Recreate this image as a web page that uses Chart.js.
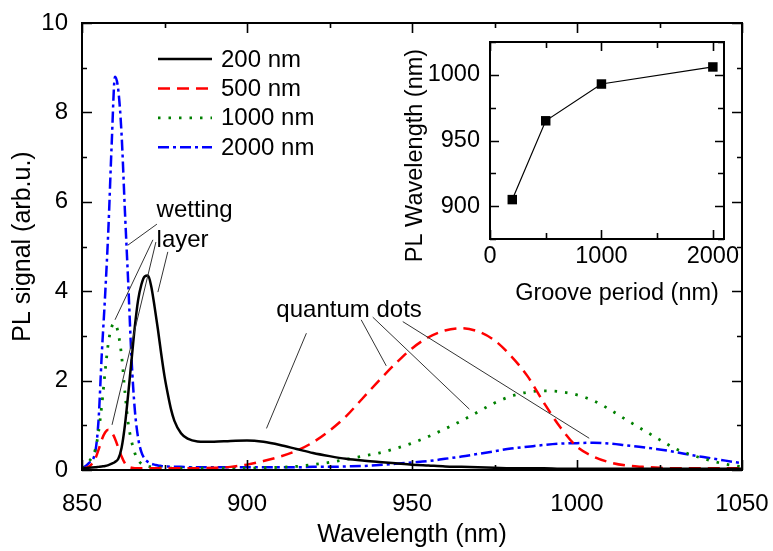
<!DOCTYPE html>
<html lang="en">
<head>
  <meta charset="UTF-8" />
  <title>PL spectra vs groove period</title>
  <script src="https://cdn.jsdelivr.net/npm/chart.js"></script>
  <style>
    html, body { margin: 0; padding: 0; background: #fff; }
    #wrap { position: relative; width: 773px; height: 551px; }
    #wrap canvas { position: absolute; left: 0; top: 0; }
    #inset { pointer-events: none; }
  </style>
</head>
<body>
<div id="wrap">
  <canvas id="spectra" width="773" height="551"></canvas>
  <canvas id="inset" width="773" height="551"></canvas>
</div>

<script>
  // wavelength grid (nm), denser around the wetting-layer peaks
  const wavelength = [850, 852, 854, 855, 856, 857, 858, 859, 860, 861, 862, 863, 864, 865, 866, 867,
    868, 869, 870, 871, 872, 873, 874, 875, 876, 877, 878, 880, 882, 885, 890, 895, 900, 905, 910,
    915, 920, 925, 930, 935, 940, 945, 950, 955, 960, 965, 970, 975, 980, 985, 990, 995, 1000, 1005,
    1010, 1015, 1020, 1025, 1030, 1035, 1040, 1045, 1050];

  const pl200 = [0.03, 0.05, 0.06, 0.07, 0.08, 0.09, 0.11, 0.14, 0.18, 0.25, 0.5, 1.0, 1.7, 2.45, 3.2, 3.8,
    4.15, 4.33, 4.35, 4.1, 3.65, 3.15, 2.6, 2.1, 1.7, 1.35, 1.1, 0.82, 0.7, 0.64, 0.63, 0.65, 0.66, 0.63, 0.56,
    0.47, 0.38, 0.31, 0.25, 0.21, 0.18, 0.15, 0.12, 0.1, 0.08, 0.07, 0.06, 0.05, 0.04, 0.04, 0.04, 0.03, 0.03, 0.03,
    0.03, 0.03, 0.03, 0.03, 0.03, 0.03, 0.03, 0.03, 0.03];

  const pl500 = [0.03, 0.07, 0.25, 0.45, 0.68, 0.84, 0.9, 0.84, 0.7, 0.5, 0.3, 0.15, 0.08, 0.05, 0.04, 0.04,
    0.04, 0.04, 0.04, 0.04, 0.04, 0.04, 0.04, 0.04, 0.04, 0.04, 0.04, 0.04, 0.04, 0.04, 0.05, 0.07, 0.12, 0.2, 0.3,
    0.43, 0.62, 0.88, 1.2, 1.6, 2.0, 2.38, 2.72, 2.97, 3.12, 3.17, 3.1, 2.9, 2.55, 2.1, 1.5, 0.95, 0.52, 0.3,
    0.17, 0.1, 0.07, 0.05, 0.04, 0.04, 0.04, 0.04, 0.04];

  const pl1000 = [0.04, 0.18, 0.45, 0.85, 1.45, 2.2, 2.85, 3.2, 3.28, 3.05, 2.55, 1.75, 1.05, 0.65, 0.38, 0.22,
    0.14, 0.1, 0.08, 0.07, 0.06, 0.05, 0.05, 0.05, 0.05, 0.04, 0.04, 0.04, 0.04, 0.04, 0.04, 0.04, 0.04, 0.05, 0.06,
    0.08, 0.12, 0.17, 0.24, 0.31, 0.38, 0.48, 0.6, 0.75, 0.92, 1.1, 1.3, 1.5, 1.65, 1.74, 1.77, 1.75, 1.68, 1.55,
    1.35, 1.12, 0.9, 0.68, 0.47, 0.33, 0.22, 0.13, 0.07];

  const pl2000 = [0.03, 0.15, 0.4, 1.1, 2.6, 3.9, 5.4, 7.3, 8.8, 8.5, 7.5, 5.8, 4.2, 2.5, 1.35, 0.72,
    0.4, 0.25, 0.18, 0.14, 0.12, 0.1, 0.09, 0.08, 0.08, 0.07, 0.07, 0.07, 0.06, 0.06, 0.06, 0.06, 0.06, 0.06, 0.06,
    0.06, 0.07, 0.07, 0.08, 0.09, 0.11, 0.14, 0.17, 0.2, 0.25, 0.3, 0.36, 0.42, 0.48, 0.52, 0.56, 0.59, 0.6, 0.61,
    0.59, 0.55, 0.51, 0.46, 0.4, 0.33, 0.27, 0.21, 0.15];

  const seriesNames = ['200 nm', '500 nm', '1000 nm', '2000 nm'];

  // inset: peak position of the quantum dot emission
  const groovePeriod = [200, 500, 1000, 2000];
  const peakWavelength = [905, 965, 993, 1006];
  const insetXTicks = [0, 1000, 2000];
  const insetYTicks = [900, 950, 1000];

  // annotation texts and leader lines, in data units
  const noteTexts = ['wetting', 'layer', 'quantum dots'];
  const notePos = [[872.6, 5.66], [872.6, 4.99], [908.9, 3.42]];
  const leaders = [
    [872.7, 5.50, 863.9, 5.03],
    [871.5, 5.15, 860.0, 3.36],
    [872.4, 5.10, 859.1, 1.01],
    [876.0, 4.88, 873.0, 3.98],
    [918.0, 3.06, 905.9, 0.93],
    [934.6, 3.36, 942.2, 2.33],
    [938.1, 3.42, 967.4, 1.36],
    [947.2, 3.32, 1003.7, 0.71]
  ];

  const fam = '"Liberation Sans", Arial, sans-serif';
  Chart.defaults.font.family = fam;
  Chart.defaults.font.size = 24;
  Chart.defaults.color = '#000';

  const pts = ys => wavelength.map((w, i) => ({ x: w, y: ys[i] }));
  const plain = v => String(v);
  // no extra room for overhanging tick labels
  const noPad = s => { s.paddingLeft = 0; s.paddingRight = 0; s.paddingTop = 0; s.paddingBottom = 0; };

  // frame + inward ticks on all four sides
  function drawFrame(chart, o) {
    const { ctx, chartArea: a } = chart;
    const sx = chart.scales.x, sy = chart.scales.y;
    ctx.save();
    ctx.strokeStyle = '#000';
    ctx.lineWidth = 2;
    ctx.strokeRect(a.left, a.top, a.right - a.left, a.bottom - a.top);
    ctx.lineWidth = 1.6;
    ctx.beginPath();
    for (let v = sx.min; v <= sx.max + 1e-9; v += o.xMinor) {
      const len = Math.abs(v / o.xMajor - Math.round(v / o.xMajor)) < 1e-6 ? o.major : o.minor;
      const px = Math.round(sx.getPixelForValue(v)) + 0.5;
      ctx.moveTo(px, a.bottom); ctx.lineTo(px, a.bottom - len);
      ctx.moveTo(px, a.top); ctx.lineTo(px, a.top + len);
    }
    for (let v = o.yStart; v <= sy.max + 1e-9; v += o.yMinor) {
      const len = Math.abs(v / o.yMajor - Math.round(v / o.yMajor)) < 1e-6 ? o.major : o.minor;
      const py = Math.round(sy.getPixelForValue(v)) + 0.5;
      ctx.moveTo(a.left, py); ctx.lineTo(a.left + len, py);
      ctx.moveTo(a.right, py); ctx.lineTo(a.right - len, py);
    }
    ctx.stroke();
    ctx.restore();
  }

  const spectraDecor = {
    id: 'spectraDecor',
    afterDatasetsDraw(chart) {
      const { ctx, chartArea: a } = chart;
      const sx = chart.scales.x, sy = chart.scales.y;
      drawFrame(chart, { xMinor: 25, xMajor: 50, yStart: 0, yMinor: 1, yMajor: 2, major: 10, minor: 5 });

      ctx.save();
      // legend
      ctx.font = '24px ' + fam;
      ctx.textBaseline = 'middle';
      ctx.textAlign = 'left';
      chart.data.datasets.forEach((ds, i) => {
        const y = a.top + 36 + i * 29.4;
        ctx.strokeStyle = ds.borderColor;
        ctx.lineWidth = ds.borderWidth;
        ctx.setLineDash(ds.borderDash || []);
        ctx.beginPath();
        ctx.moveTo(a.left + 76, y);
        ctx.lineTo(a.left + 130, y);
        ctx.stroke();
        ctx.setLineDash([]);
        ctx.fillStyle = '#000';
        ctx.fillText(ds.label, a.left + 139, y + 1);
      });

      // leader lines
      ctx.strokeStyle = '#333';
      ctx.lineWidth = 1;
      ctx.beginPath();
      leaders.forEach(l => {
        ctx.moveTo(sx.getPixelForValue(l[0]), sy.getPixelForValue(l[1]));
        ctx.lineTo(sx.getPixelForValue(l[2]), sy.getPixelForValue(l[3]));
      });
      ctx.stroke();

      // annotation texts
      ctx.fillStyle = '#000';
      ctx.textBaseline = 'alphabetic';
      noteTexts.forEach((t, i) => {
        ctx.fillText(t, sx.getPixelForValue(notePos[i][0]), sy.getPixelForValue(notePos[i][1]));
      });
      ctx.restore();
    }
  };

  new Chart(document.getElementById('spectra'), {
    type: 'line',
    data: {
      datasets: [
        { label: seriesNames[0], data: pts(pl200), borderColor: '#000000', borderWidth: 2.5 },
        { label: seriesNames[1], data: pts(pl500), borderColor: '#ff0000', borderWidth: 2.5, borderDash: [12, 7] },
        { label: seriesNames[2], data: pts(pl1000), borderColor: '#008000', borderWidth: 2.8, borderDash: [2.5, 8] },
        { label: seriesNames[3], data: pts(pl2000), borderColor: '#0000ff', borderWidth: 2.5, borderDash: [11, 4, 3, 4] }
      ]
    },
    options: {
      responsive: false,
      animation: false,
      layout: { padding: { top: 23, right: 31, left: 0, bottom: 0 } },
      elements: {
        point: { radius: 0 },
        line: { cubicInterpolationMode: 'monotone' }
      },
      plugins: { legend: { display: false }, tooltip: { enabled: false } },
      scales: {
        x: {
          type: 'linear', min: 850, max: 1050,
          grid: { display: false, drawTicks: false },
          border: { display: false },
          ticks: { stepSize: 50, padding: 20, maxRotation: 0, callback: plain },
          title: { display: true, text: 'Wavelength (nm)', font: { size: 25 }, padding: { top: 0, bottom: 1 } },
          afterFit(s) { s.height = 81; noPad(s); }
        },
        y: {
          min: 0, max: 10,
          grid: { display: false, drawTicks: false },
          border: { display: false },
          ticks: { stepSize: 2, padding: 14, callback: plain },
          title: { display: true, text: 'PL signal (arb.u.)', font: { size: 25 }, padding: { top: 8, bottom: 0 } },
          afterFit(s) { s.width = 82; noPad(s); }
        }
      }
    },
    plugins: [spectraDecor]
  });

  const insetDecor = {
    id: 'insetDecor',
    afterDatasetsDraw(chart) {
      const { ctx, chartArea: a } = chart;
      drawFrame(chart, { xMinor: 500, xMajor: 1000, yStart: 875, yMinor: 25, yMajor: 50, major: 9, minor: 6 });
      ctx.save();
      ctx.fillStyle = '#000';
      ctx.font = '23.5px ' + fam;
      ctx.textAlign = 'center';
      ctx.textBaseline = 'middle';
      ctx.fillText('Groove period (nm)', (a.left + a.right) / 2 + 10, a.bottom + 55);
      ctx.translate(a.left - 74, (a.top + a.bottom) / 2 + 15);
      ctx.rotate(-Math.PI / 2);
      ctx.fillText('PL Wavelength (nm)', 0, 0);
      ctx.restore();
    }
  };

  new Chart(document.getElementById('inset'), {
    type: 'line',
    data: {
      datasets: [{
        data: groovePeriod.map((p, i) => ({ x: p, y: peakWavelength[i] })),
        borderColor: '#000',
        borderWidth: 1.2,
        pointStyle: 'rect',
        pointRadius: 6.7,
        pointBackgroundColor: '#000',
        pointBorderWidth: 0,
        tension: 0
      }]
    },
    options: {
      responsive: false,
      animation: false,
      layout: { padding: { top: 42, right: 49, left: 0, bottom: 0 } },
      plugins: { legend: { display: false }, tooltip: { enabled: false } },
      scales: {
        x: {
          type: 'linear', min: 0, max: 2100,
          grid: { display: false, drawTicks: false },
          border: { display: false },
          ticks: { padding: 3, maxRotation: 0, font: { size: 23.5 }, callback: plain },
          afterBuildTicks(s) { s.ticks = insetXTicks.map(v => ({ value: v })); },
          afterFit(s) { s.height = 312; noPad(s); }
        },
        y: {
          min: 875, max: 1025,
          grid: { display: false, drawTicks: false },
          border: { display: false },
          ticks: { padding: 10, font: { size: 23.5 }, callback: plain },
          afterBuildTicks(s) { s.ticks = insetYTicks.map(v => ({ value: v })); },
          afterFit(s) { s.width = 490; noPad(s); }
        }
      }
    },
    plugins: [insetDecor]
  });
</script>
</body>
</html>
